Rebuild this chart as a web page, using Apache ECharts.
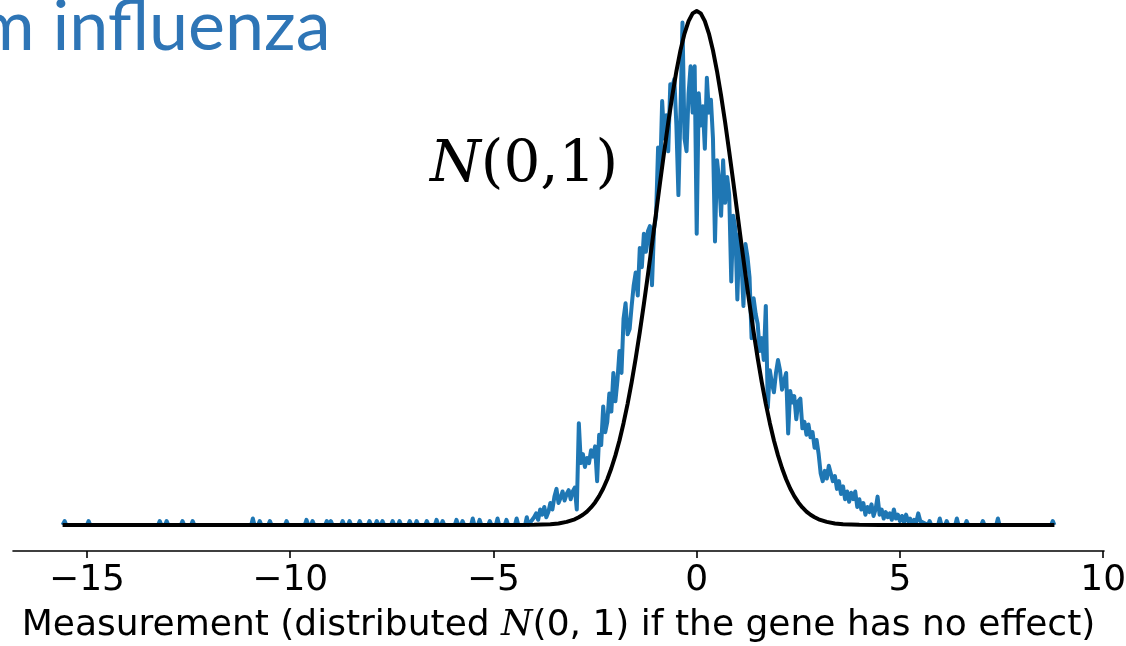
<!DOCTYPE html>
<html><head><meta charset="utf-8">
<script src="https://cdn.jsdelivr.net/npm/echarts@6/dist/echarts.min.js"></script>
<style>html,body{margin:0;padding:0;background:#fff}#c{width:1126px;height:646px}</style>
</head><body><div id="c"></div>
<script>
// x-axis ticks
const xTicks = [-15, -10, -5, 0, 5, 10];
const tickLabels = ['\u221215', '\u221210', '\u22125', '0', '5', '10'];

// Observed measurement histogram (density, per-mille), central body on a 0.05 grid
const bodyStart = -4.0, bodyStep = 0.05;
const bodyDensity = [
  6, 9, 4, 12, 8, 14, 6, 10, 17, 12,
  22, 28, 17, 21, 26, 19, 24, 27, 20, 26,
  29, 12, 79, 48, 55, 45, 52, 48, 58, 53,
  61, 34, 70, 62, 92, 72, 80, 102, 88, 118,
  96, 112, 135, 118, 160, 172, 148, 152, 170, 186,
  196, 178, 215, 200, 226, 212, 228, 232, 186, 230,
  240, 293, 270, 329, 300, 318, 290, 342, 340, 346,
  310, 256, 320, 390, 300, 290, 335, 356, 320, 356,
  226, 335, 310, 325, 292, 347, 320, 330, 300, 220,
  283, 268, 240, 283, 250, 270, 256, 189, 240, 230,
  175, 226, 205, 170, 218, 208, 192, 145, 176, 164,
  156, 135, 145, 128, 170, 91, 120, 110, 103, 118,
  128, 120, 105, 112, 118, 71, 104, 95, 100, 82,
  96, 98, 75, 80, 70, 78, 68, 72, 60, 66,
  55, 40, 34, 42, 36, 46, 40, 34, 38, 28,
  34, 24, 30, 20, 26, 18, 25, 20, 26, 14,
  20, 12, 17, 8, 14, 10, 16, 7, 12, 22,
  8, 12, 5, 10, 6, 9, 4, 12, 5, 8,
  3, 7, 2, 8, 3, 5, 0, 4, 2, 9,
  3
];
// Sparse tails: isolated small bumps (position, density per-mille)
const leftTailX = [-15.55, -14.96, -13.21, -13.04, -12.65, -12.40, -10.92, -10.75, -10.50, -10.09,
  -9.60, -9.45, -9.10, -9.00, -8.71, -8.54, -8.29, -8.05, -7.87, -7.73, -7.48, -7.31, -7.06,
  -6.89, -6.64, -6.40, -6.25, -5.91, -5.76, -5.51, -5.34, -5.09, -4.90, -4.68, -4.43, -4.18];
const leftTailY = [3, 3, 3, 3, 3, 3, 5, 3, 3, 3,
  4, 3, 3, 3, 3, 3, 3, 3, 3, 3, 3, 3, 3,
  3, 3, 4, 3, 4, 3, 5, 4, 3, 5, 4, 5, 6];
const rightTailX = [5.73, 5.98, 6.15, 6.40, 6.64, 7.04, 7.41, 8.76];
const rightTailY = [3, 5, 3, 5, 3, 3, 5, 3];
const dataMinX = -15.6, dataMaxX = 8.8;

// Standard normal reference curve N(0,1), density per-mille
const normalX = [-15.6, -4.5, -4.0, -3.8, -3.6, -3.4, -3.2, -3.0, -2.9, -2.8, -2.7, -2.6, -2.5, -2.4, -2.3, -2.2, -2.1,
  -2.0, -1.9, -1.8, -1.7, -1.6, -1.5, -1.4, -1.3, -1.2, -1.1, -1.0, -0.9, -0.8, -0.7, -0.6, -0.5, -0.4, -0.3, -0.2, -0.1,
  0.0, 0.1, 0.2, 0.3, 0.4, 0.5, 0.6, 0.7, 0.8, 0.9, 1.0, 1.1, 1.2, 1.3, 1.4, 1.5, 1.6, 1.7, 1.8, 1.9,
  2.0, 2.1, 2.2, 2.3, 2.4, 2.5, 2.6, 2.7, 2.8, 2.9, 3.0, 3.2, 3.4, 3.6, 3.8, 4.0, 4.5, 8.8];
const normalY = [0, 0.0, 0.1, 0.3, 0.6, 1.2, 2.4, 4.4, 6.0, 7.9, 10.4, 13.6, 17.5, 22.4, 28.3, 35.5, 44.0,
  54.0, 65.6, 79.0, 94.0, 110.9, 129.5, 149.7, 171.4, 194.2, 217.9, 242.0, 266.1, 289.7, 312.3, 333.2, 352.1, 368.3, 381.4, 391.0, 397.0,
  398.9, 397.0, 391.0, 381.4, 368.3, 352.1, 333.2, 312.3, 289.7, 266.1, 242.0, 217.9, 194.2, 171.4, 149.7, 129.5, 110.9, 94.0, 79.0, 65.6,
  54.0, 44.0, 35.5, 28.3, 22.4, 17.5, 13.6, 10.4, 7.9, 6.0, 4.4, 2.4, 1.2, 0.6, 0.3, 0.1, 0.0, 0];

// Build series data
const blue = [[dataMinX, 0]];
leftTailX.forEach((x, i) => { blue.push([x - 0.04, 0], [x, leftTailY[i]], [x + 0.04, 0]); });
bodyDensity.forEach((v, i) => blue.push([+(bodyStart + i * bodyStep).toFixed(2), v]));
rightTailX.forEach((x, i) => { blue.push([x - 0.04, 0], [x, rightTailY[i]], [x + 0.04, 0]); });
if (blue[blue.length - 1][0] < dataMaxX) blue.push([dataMaxX, 0]);
const black = normalX.map((x, i) => [x, normalY[i]]);

const chart = echarts.init(document.getElementById('c'), null, {renderer: 'canvas'});
chart.setOption({
  animation: false,
  backgroundColor: '#ffffff',
  grid: {left: 13, right: 22, top: 0, bottom: 95, containLabel: false, outerBoundsMode: 'none'},
  xAxis: {
    type: 'value', min: -16.82, max: 10.02,
    axisLine: {show: true, onZero: false, lineStyle: {color: '#000', width: 1.6}},
    axisTick: {show: true, customValues: xTicks, length: 7, lineStyle: {color: '#000', width: 1.6}},
    axisLabel: {
      customValues: xTicks, margin: 12, fontSize: 36, fontFamily: 'DejaVu Sans', color: '#000',
      formatter: v => { const k = xTicks.indexOf(Math.round(v)); return k >= 0 ? tickLabels[k] : ''; }
    },
    splitLine: {show: false},
    name: '{a|Measurement (distributed }{cal|N}{a|(0, 1) if the gene has no effect)}',
    nameLocation: 'middle', nameGap: 57,
    nameTextStyle: {
      rich: {
        a: {fontSize: 36, fontFamily: 'DejaVu Sans', color: '#000'},
        cal: {fontSize: 36, fontFamily: 'DejaVu Serif', fontStyle: 'italic', color: '#000'}
      }
    }
  },
  yAxis: {type: 'value', min: -20.2, max: 407.4, show: false, splitLine: {show: false}},
  graphic: [
    {type: 'text', left: -23, top: -8, silent: true,
     style: {text: 'm influenza', fill: '#2E75B6', font: '70px Lato'}},
    {type: 'text', left: 430, top: 137, silent: true,
     style: {text: '{i|N}{r|(0,1)}', rich: {
       i: {fontSize: 58, fontFamily: 'DejaVu Serif', fontStyle: 'italic', fill: '#000'},
       r: {fontSize: 58, fontFamily: 'DejaVu Serif', fill: '#000'}
     }}}
  ],
  series: [
    {type: 'line', data: blue, showSymbol: false, symbol: 'none', sampling: null,
     lineStyle: {color: '#1f77b4', width: 4, join: 'round'}, z: 2},
    {type: 'line', data: black, showSymbol: false, symbol: 'none',
     lineStyle: {color: '#000000', width: 4, join: 'round'}, z: 3}
  ]
});
</script>
</body></html>
